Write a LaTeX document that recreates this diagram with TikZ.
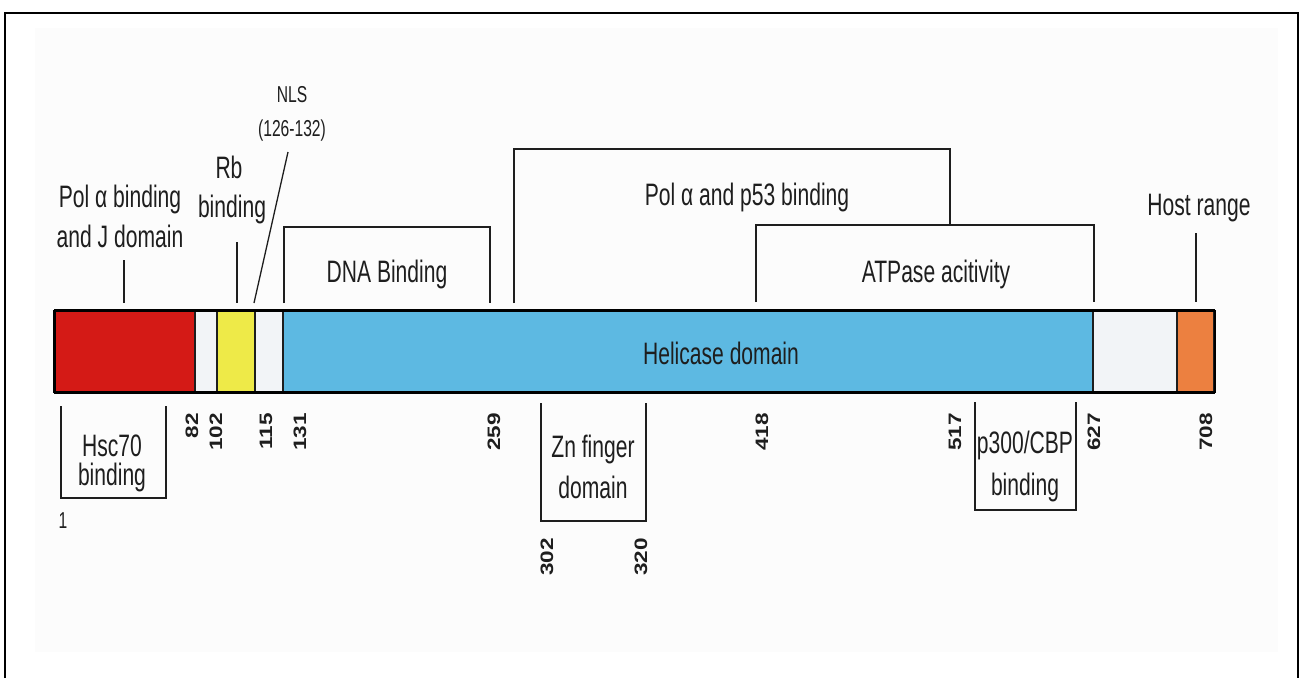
\documentclass[tikz,border=0pt]{standalone}
\usepackage{fontspec}
\setmainfont{Liberation Sans}
\newfontfamily\lab[FakeStretch=0.68]{Liberation Sans}
\newfontfamily\numf[FakeStretch=1.25]{Liberation Sans}
\definecolor{ink}{HTML}{1E1E1E}
\definecolor{cRed}{HTML}{D41A16}
\definecolor{cYel}{HTML}{EEEA48}
\definecolor{cBlue}{HTML}{5DB9E2}
\definecolor{cOra}{HTML}{EC8040}
\definecolor{cGap}{HTML}{F2F4F7}
\definecolor{paper}{HTML}{FCFCFC}
\tikzset{
  lbl/.style={font=\lab\fontsize{31}{36}\selectfont, inner sep=0pt, anchor=base, text=ink},
  small/.style={font=\lab\fontsize{23}{27}\selectfont, inner sep=0pt, anchor=base, text=ink},
  numlbl/.style={font=\numf\bfseries\fontsize{18}{20}\selectfont, inner sep=0pt, rotate=90, anchor=east, text=ink},
  brk/.style={line width=1.3pt, draw=ink},
  brktop/.style={line width=2.4pt, draw=ink},
  tickline/.style={line width=1.3pt, draw=ink},
  seg/.style={inner sep=0pt, minimum height=81pt, draw=ink, line width=1.2pt},
}
\begin{document}
\begin{tikzpicture}[x=1pt,y=-1pt]
\useasboundingbox (0,0) rectangle (1300,678);
% scanned paper tone
\fill[paper] (35,28) rectangle (1278,652);
% outer frame
\draw[line width=2.2pt, black] (5,678) -- (5,13) -- (1298,13) -- (1298,678);

% ---------- protein bar ----------
\node[seg, fill=cRed,  minimum width=140pt] (sRed)  at (125,351.5) {};
\node[seg, fill=cGap,  minimum width=22pt]  (sG1)   at (206,351.5) {};
\node[seg, fill=cYel,  minimum width=38pt]  (sYel)  at (236,351.5) {};
\node[seg, fill=cGap,  minimum width=28pt]  (sG2)   at (269,351.5) {};
\node[seg, fill=cBlue, minimum width=810pt] (sBlue) at (688,351.5) {};
\node[seg, fill=cGap,  minimum width=84pt]  (sG3)   at (1135,351.5) {};
\node[seg, fill=cOra,  minimum width=37pt]  (sOra)  at (1195.5,351.5) {};
\draw[line width=3.5pt, black] (sRed.north west) -- (sOra.north east);
\draw[line width=3.5pt, black] (sRed.south west) -- (sOra.south east);
\draw[line width=2.2pt, black] (sRed.north west) -- (sRed.south west);
\draw[line width=2.2pt, black] (sOra.north east) -- (sOra.south east);
\node[lbl] (heli) at (721,364) {Helicase domain};

% ---------- labels above ----------
\node[lbl] (pj1) at (120,207) {Pol α binding};
\node[lbl] (pj2) at (120,247) {and J domain};
\coordinate (pjA) at (124,260);
\coordinate (pjB) at (124,303);
\draw[tickline] (pjA) -- (pjB);

\node[lbl] (rb1) at (229,178) {Rb};
\node[lbl] (rb2) at (232,217) {binding};
\coordinate (rbA) at (237,242);
\coordinate (rbB) at (237,303);
\draw[tickline] (rbA) -- (rbB);

\node[small] (nls1) at (292,102) {NLS};
\node[small] (nls2) at (292,136) {(126-132)};
\coordinate (nlsA) at (288,152);
\coordinate (nlsB) at (254,303);
\draw[tickline] (nlsA) -- (nlsB);

% DNA binding bracket
\coordinate (dnaL) at (284,303);
\coordinate (dnaTL) at (284,227);
\coordinate (dnaTR) at (490,227);
\coordinate (dnaR) at (490,303);
\draw[brk] (dnaL) -- (dnaTL) -- (dnaTR) -- (dnaR);
\draw[brktop] (dnaTL) -- (dnaTR);
\node[lbl] (dna) at (387,282) {DNA Binding};

% Pol alpha and p53 bracket
\coordinate (polL) at (514,303);
\coordinate (polTL) at (514,149);
\coordinate (polTR) at (950,149);
\coordinate (polR) at (950,224);
\draw[brk] (polL) -- (polTL) -- (polTR) -- (polR);
\draw[brktop] (polTL) -- (polTR);
\node[lbl] (pol) at (747,205) {Pol α and p53 binding};

% ATPase bracket
\coordinate (atpL) at (756,302);
\coordinate (atpTL) at (756,225);
\coordinate (atpTR) at (1094,225);
\coordinate (atpR) at (1094,302);
\draw[brk] (atpL) -- (atpTL) -- (atpTR) -- (atpR);
\draw[brktop] (atpTL) -- (atpTR);
\node[lbl] (atp) at (936,282) {ATPase acitivity};

% Host range
\node[lbl] (host) at (1199,215) {Host range};
\coordinate (hostA) at (1196,233);
\coordinate (hostB) at (1196,302);
\draw[tickline] (hostA) -- (hostB);

% ---------- labels below ----------
\coordinate (hscL) at (61,406);
\coordinate (hscBL) at (61,498);
\coordinate (hscBR) at (166,498);
\coordinate (hscR) at (166,406);
\draw[brk] (hscL) -- (hscBL) -- (hscBR) -- (hscR);
\draw[brktop] (hscBL) -- (hscBR);
\node[lbl] (hsc1) at (112,456) {Hsc70};
\node[lbl] (hsc2) at (112,485) {binding};
\node[small] (one) at (63,528) {1};

\coordinate (znL) at (541,403);
\coordinate (znBL) at (541,521);
\coordinate (znBR) at (646,521);
\coordinate (znR) at (646,403);
\draw[brk] (znL) -- (znBL) -- (znBR) -- (znR);
\draw[brktop] (znBL) -- (znBR);
\node[lbl] (zn1) at (593,457) {Zn finger};
\node[lbl] (zn2) at (593,498) {domain};

\coordinate (pcL) at (975,402);
\coordinate (pcBL) at (975,510);
\coordinate (pcBR) at (1076,510);
\coordinate (pcR) at (1076,402);
\draw[brk] (pcL) -- (pcBL) -- (pcBR) -- (pcR);
\draw[brktop] (pcBL) -- (pcBR);
\node[lbl] (pc1) at (1025,453) {p300/CBP};
\node[lbl] (pc2) at (1025,495) {binding};

% residue numbers
\node[numlbl] (n82)  at (192,413) {82};
\node[numlbl] (n102) at (216,413) {102};
\node[numlbl] (n115) at (266,413) {115};
\node[numlbl] (n131) at (300,413) {131};
\node[numlbl] (n259) at (494,413) {259};
\node[numlbl] (n418) at (762,413) {418};
\node[numlbl] (n517) at (955,413) {517};
\node[numlbl] (n627) at (1094,413) {627};
\node[numlbl] (n708) at (1206,413) {708};
\node[numlbl] (n302) at (547,538) {302};
\node[numlbl] (n320) at (641,538) {320};
\end{tikzpicture}
\end{document}
